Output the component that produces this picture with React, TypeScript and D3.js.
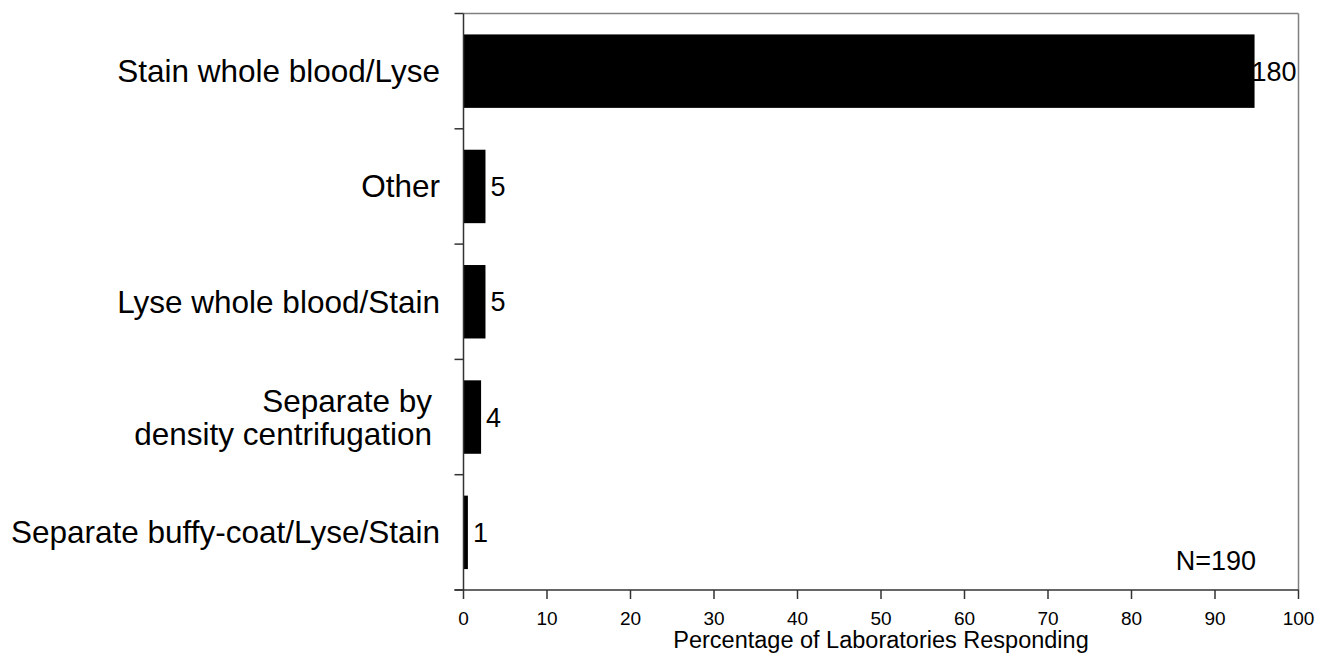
import React from "react";
import * as d3 from "d3";

const categories: string[][] = [
  ["Stain whole blood/Lyse"],
  ["Other"],
  ["Lyse whole blood/Stain"],
  ["Separate by", "density centrifugation"],
  ["Separate buffy-coat/Lyse/Stain"],
];
const counts: number[] = [180, 5, 5, 4, 1];
const total = 190;
const xTicks: number[] = [0, 10, 20, 30, 40, 50, 60, 70, 80, 90, 100];
const xTitle = "Percentage of Laboratories Responding";
const nLabel = "N=190";

const W = 1325;
const H = 666;
const left = 463.5;
const right = 1298.5;
const top = 13.5;
const bottom = 590;
const FONT = "'Liberation Sans', Arial, sans-serif";

export default function App() {
  const x = d3.scaleLinear().domain([0, 100]).range([left, right]);
  const y = d3
    .scaleBand<number>()
    .domain(d3.range(categories.length))
    .range([top, bottom])
    .paddingInner(0.363)
    .paddingOuter(0.1815);
  const step = y.step();
  const boundaries = d3.range(categories.length + 1).map((i) => top + i * step);
  const pct = counts.map((c) => (c / total) * 100);

  return (
    <svg
      width={W}
      height={H}
      style={{ position: "absolute", left: 0, top: 0, background: "#fff" }}
      fontFamily={FONT}
    >
      <rect x={0} y={0} width={W} height={H} fill="#fff" />
      {/* border top & right */}
      <line x1={left} x2={right} y1={top} y2={top} stroke="#808080" strokeWidth={1.5} />
      <line x1={right} x2={right} y1={top} y2={bottom} stroke="#808080" strokeWidth={1.5} />
      {/* bars */}
      {pct.map((p, i) => (
        <rect
          key={i}
          x={x(0)}
          y={y(i)!}
          width={x(p) - x(0)}
          height={y.bandwidth()}
          fill="#000"
        />
      ))}
      {/* y axis */}
      <line x1={left} x2={left} y1={top} y2={bottom} stroke="#333" strokeWidth={1.5} />
      {boundaries.map((b, i) => (
        <line key={i} x1={left - 9} x2={left} y1={b} y2={b} stroke="#333" strokeWidth={1.5} />
      ))}
      {/* x axis */}
      <line x1={left - 9} x2={right} y1={bottom} y2={bottom} stroke="#333" strokeWidth={1.5} />
      {xTicks.map((t) => (
        <g key={t}>
          <line x1={x(t)} x2={x(t)} y1={bottom} y2={bottom + 9} stroke="#333" strokeWidth={1.5} />
          <text x={x(t)} y={625} textAnchor="middle" fontSize={19} fill="#000">
            {t}
          </text>
        </g>
      ))}
      <text x={(left + right) / 2} y={648} textAnchor="middle" fontSize={23.5} fill="#000">
        {xTitle}
      </text>
      {/* category labels */}
      {categories.map((lines, i) => {
        const cy = y(i)! + y.bandwidth() / 2;
        const lh = 33;
        const start = cy - ((lines.length - 1) * lh) / 2;
        return (
          <text key={i} textAnchor="end" fontSize={31.5} fill="#000">
            {lines.map((l, j) => (
              <tspan key={j} x={lines.length > 1 ? 432 : 440} y={start + j * lh} dy="0.35em">
                {l}
              </tspan>
            ))}
          </text>
        );
      })}
      {/* value labels */}
      {counts.map((c, i) => {
        const fs = 27;
        const est = String(c).length * 0.556 * fs;
        const lx = Math.min(x(pct[i]) + 5, right - 2 - est);
        return (
          <text
            key={i}
            x={lx}
            y={y(i)! + y.bandwidth() / 2}
            dy="0.35em"
            fontSize={fs}
            fill="#000"
          >
            {c}
          </text>
        );
      })}
      <text x={1256} y={570} textAnchor="end" fontSize={27} fill="#000">
        {nLabel}
      </text>
    </svg>
  );
}
